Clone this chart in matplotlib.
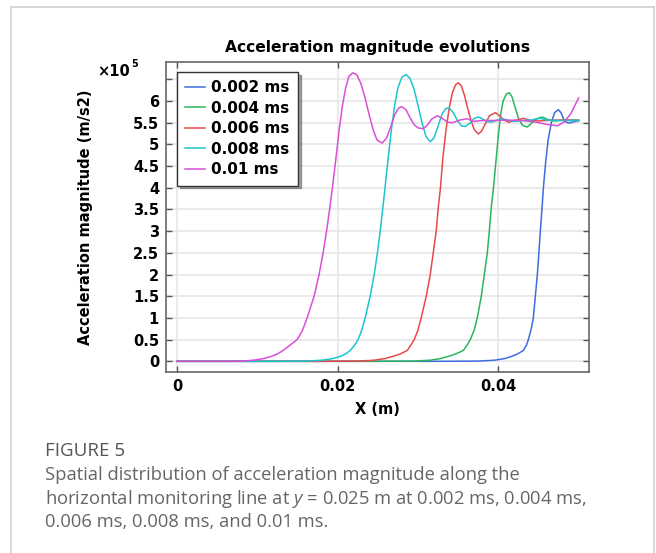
import numpy as np
import matplotlib
matplotlib.use("Agg")
import matplotlib.pyplot as plt
from matplotlib.patches import Rectangle

plt.rcParams['font.family'] = ['DejaVu Sans']
plt.rcParams['mathtext.fontset'] = 'custom'
plt.rcParams['mathtext.it'] = 'Open Sans:italic'
plt.rcParams['mathtext.rm'] = 'Open Sans'

# x in m, acceleration in 1e5 m/s^2
x_002 = [0, 0.033, 0.0375, 0.0395, 0.0407, 0.0416, 0.0424, 0.04312, 0.0435, 0.04374,
         0.0441, 0.04436, 0.04461, 0.04486, 0.04505, 0.04523, 0.04543, 0.04561, 0.0459, 0.0462,
         0.0466, 0.0470, 0.04748, 0.0478, 0.0481, 0.04835, 0.0488, 0.0494, 0.0500]
y_002 = [0, 0.0, 0.005, 0.025, 0.06, 0.11, 0.17, 0.25, 0.37, 0.5,
         0.75, 1.0, 1.5, 2.0, 2.5, 3.0, 3.5, 4.0, 4.6, 5.1,
         5.5, 5.73, 5.80, 5.73, 5.6, 5.52, 5.49, 5.52, 5.55]

x_004 = [0, 0.025, 0.0295, 0.0315, 0.0327, 0.0337, 0.0347, 0.03564, 0.0361, 0.03651,
         0.0370, 0.03738, 0.03788, 0.03826, 0.03863, 0.03888, 0.0391, 0.0394, 0.0397,
         0.0400, 0.0403, 0.0406, 0.0410, 0.04137, 0.0417, 0.0421, 0.0425, 0.0430, 0.04361,
         0.0441, 0.0446, 0.04548, 0.0462, 0.0470, 0.0480, 0.0500]
y_004 = [0, 0.0, 0.005, 0.025, 0.06, 0.11, 0.17, 0.25, 0.37, 0.5,
         0.72, 1.0, 1.5, 2.0, 2.5, 3.0, 3.5, 4.0, 4.6,
         5.2, 5.7, 6.0, 6.16, 6.19, 6.1, 5.85, 5.6, 5.44, 5.40,
         5.48, 5.58, 5.63, 5.57, 5.54, 5.56, 5.56]

x_006 = [0, 0.018, 0.0225, 0.0245, 0.0258, 0.0268, 0.0278, 0.02866, 0.0291, 0.02953,
         0.0300, 0.0304, 0.03103, 0.03153, 0.0319, 0.03227, 0.0325, 0.0328, 0.0331,
         0.0335, 0.0339, 0.0343, 0.0347, 0.0350, 0.0354, 0.0358, 0.0362, 0.0366, 0.0370,
         0.03751, 0.0379, 0.0384, 0.0389, 0.03963, 0.0401, 0.0407, 0.0413, 0.0420, 0.04312,
         0.0440, 0.0450, 0.0470, 0.0500]
y_006 = [0, 0.0, 0.005, 0.025, 0.06, 0.11, 0.17, 0.25, 0.37, 0.5,
         0.72, 1.0, 1.5, 2.0, 2.5, 3.0, 3.5, 4.0, 4.7,
         5.35, 5.85, 6.2, 6.38, 6.42, 6.35, 6.12, 5.82, 5.55, 5.34,
         5.24, 5.3, 5.48, 5.66, 5.73, 5.67, 5.56, 5.51, 5.55, 5.60,
         5.55, 5.54, 5.56, 5.55]

x_008 = [0, 0.012, 0.0160, 0.0180, 0.0193, 0.0203, 0.0210, 0.02156, 0.0221, 0.02255,
         0.0230, 0.02343, 0.02405, 0.02455, 0.02495, 0.0253, 0.0256, 0.0259, 0.0263,
         0.0267, 0.0271, 0.0275, 0.0280, 0.02854, 0.0290, 0.0295, 0.0300, 0.0305, 0.0310,
         0.03153, 0.0320, 0.0325, 0.0330, 0.0335, 0.03389, 0.0344, 0.0349, 0.0354, 0.03589,
         0.0364, 0.0370, 0.03751, 0.0381, 0.0387, 0.03925, 0.0399, 0.0406, 0.0413, 0.0420,
         0.0430, 0.0440, 0.04523, 0.0460, 0.0475, 0.0500]
y_008 = [0, 0.0, 0.005, 0.025, 0.06, 0.11, 0.17, 0.25, 0.37, 0.5,
         0.72, 1.0, 1.5, 2.0, 2.5, 3.0, 3.5, 4.0, 4.7,
         5.35, 5.9, 6.3, 6.55, 6.61, 6.52, 6.28, 5.9, 5.5, 5.18,
         5.06, 5.15, 5.42, 5.7, 5.83, 5.84, 5.73, 5.55, 5.43, 5.41,
         5.48, 5.6, 5.63, 5.58, 5.52, 5.52, 5.56, 5.59, 5.55, 5.53,
         5.55, 5.56, 5.60, 5.56, 5.55, 5.55]

x_010 = [0, 0.0060, 0.0080, 0.0095, 0.0107, 0.0117, 0.0125, 0.01321, 0.0140, 0.01495,
         0.0156, 0.0162, 0.01707, 0.01769, 0.01819, 0.01862, 0.0190, 0.01935, 0.0198,
         0.0202, 0.0206, 0.0210, 0.0214, 0.0219, 0.0224, 0.0229, 0.0234, 0.0239, 0.0244,
         0.0249, 0.02555, 0.0261, 0.0266, 0.0271, 0.0276, 0.0280, 0.0285, 0.0290, 0.0295,
         0.0300, 0.03065, 0.0312, 0.0317, 0.0324, 0.0330, 0.0337, 0.0343, 0.0352, 0.0361,
         0.0369, 0.0380, 0.0394, 0.0410, 0.0430, 0.0445, 0.0460, 0.0474, 0.0482, 0.0490, 0.0500]
y_010 = [0, 0.0, 0.005, 0.025, 0.06, 0.11, 0.17, 0.25, 0.36, 0.5,
         0.7, 1.0, 1.5, 2.0, 2.5, 3.0, 3.5, 4.0, 4.7,
         5.35, 5.9, 6.3, 6.57, 6.65, 6.6, 6.4, 6.08, 5.7, 5.35,
         5.1, 5.03, 5.15, 5.4, 5.68, 5.84, 5.87, 5.8, 5.62, 5.46,
         5.38, 5.36, 5.45, 5.58, 5.66, 5.6, 5.51, 5.50, 5.56, 5.59,
         5.53, 5.55, 5.55, 5.56, 5.55, 5.52, 5.46, 5.43, 5.52, 5.7, 6.07]

labels = ['0.002 ms', '0.004 ms', '0.006 ms', '0.008 ms', '0.01 ms']
colors = ['#3f6de0', '#2db35e', '#e84a4a', '#1cc5cf', '#d94fd6']
xs = [x_002, x_004, x_006, x_008, x_010]
ys = [y_002, y_004, y_006, y_008, y_010]

fig = plt.figure(figsize=(6.56, 5.53), dpi=100)
fig.patches.append(Rectangle((11 / 656, -0.05), 643 / 656, 1.05 - 7 / 553,
                             transform=fig.transFigure, fill=False,
                             edgecolor='#cfcfcf', lw=1.2))

ax = fig.add_axes([0.253, 0.327, 0.645, 0.561])
for x, y, c, lab in zip(xs, ys, colors, labels):
    ax.plot(x, y, color=c, lw=1.1, label=lab)

ax.set_xlim(-0.00137, 0.0513)
ax.set_ylim(-0.25, 6.9)
yt = np.arange(0, 7, 0.5)
ax.set_yticks(yt)
ax.set_yticklabels([f"{v:g}" if v < 6.4 else '' for v in yt])
ax.set_xticks([0, 0.02, 0.04])
ax.set_xticklabels(['0', '0.02', '0.04'])
ax.tick_params(direction='in', length=4, width=1, color='#555555', top=True, right=True,
               labelsize=10.5, pad=5)
for t in ax.get_xticklabels() + ax.get_yticklabels():
    t.set_fontweight('bold')
ax.grid(True, color='#e6e6e6', lw=1.2)
ax.set_axisbelow(True)
for s in ax.spines.values():
    s.set_color('#666666')
    s.set_linewidth(1.2)

ax.set_title('Acceleration magnitude evolutions', fontsize=11.2, fontweight='bold', pad=7)
ax.set_xlabel('X (m)', fontsize=10.5, fontweight='bold', labelpad=6)
ax.set_ylabel('Acceleration magnitude (m/s2)', fontsize=10.5, fontweight='bold')
ax.yaxis.set_label_coords(-0.173, 0.5)
fig.text(97 / 656, 1 - 72 / 553, '×10', fontsize=10.5, fontweight='bold', va='center')
fig.text(131 / 656, 1 - 64 / 553, '5', fontsize=7, fontweight='bold', va='center')

leg = ax.legend(loc='upper left', bbox_to_anchor=(0.026, 0.968), borderaxespad=0,
                prop={'weight': 'bold', 'size': 11},
                handlelength=1.3, handletextpad=0.4, labelspacing=0.36, borderpad=0.55,
                fancybox=False, shadow=True, framealpha=1)
leg.get_frame().set_edgecolor('#333333')
leg.get_frame().set_linewidth(1.0)

fig.text(45 / 656, 1 - 451 / 553, 'FIGURE 5', fontsize=13.5, color='#555555',
         family=['Open Sans', 'DejaVu Sans'], va='center')
cap = ['Spatial distribution of acceleration magnitude along the',
       'horizontal monitoring line at $y$ = 0.025 m at 0.002 ms, 0.004 ms,',
       '0.006 ms, 0.008 ms, and 0.01 ms.']
for i, line in enumerate(cap):
    fig.text(45 / 656, 1 - (475 + 23.5 * i) / 553, line, fontsize=13.2, color='#666666',
             family=['Open Sans', 'DejaVu Sans'], va='center')

fig.savefig('out.png', dpi=100)
